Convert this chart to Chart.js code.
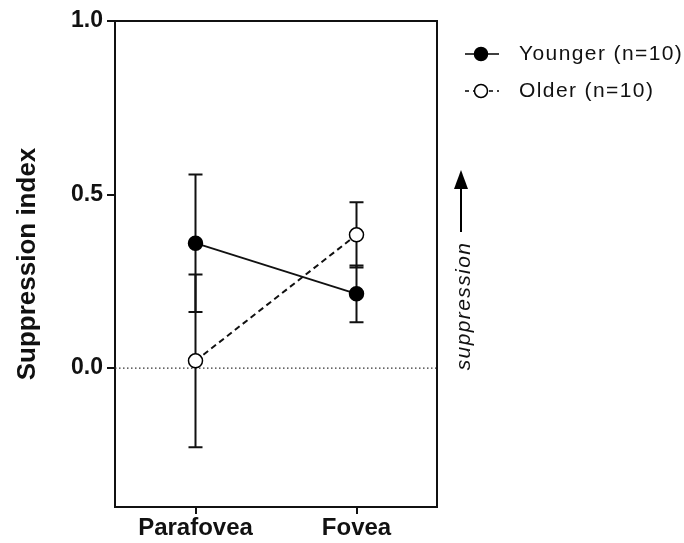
<!DOCTYPE html>
<html>
<head>
<meta charset="utf-8">
<script src="https://cdn.jsdelivr.net/npm/chart.js@4/dist/chart.umd.min.js"></script>
<style>
  html, body { margin: 0; padding: 0; background: #fff; }
  #wrap { width: 684px; height: 543px; }
</style>
</head>
<body>
<div id="wrap"><canvas id="myChart" width="684" height="543"></canvas></div>
<script>
// ---------------- data ----------------
var categories = ['Parafovea', 'Fovea'];
var youngerMean = [0.36, 0.214];
var youngerErr = [0.198, 0.082];
var olderMean = [0.021, 0.384];
var olderErr = [0.249, 0.094];
var yTicks = [0, 0.5, 1.0];
var seriesNames = ['Younger (n=10)', 'Older (n=10)'];

var FONT = '"Liberation Sans", Arial, sans-serif';

// error bars, frame, zero line, legend and the suppression arrow
var extras = {
  id: 'extras',
  beforeDatasetsDraw: function(chart) {
    var ctx = chart.ctx;
    var area = chart.chartArea;
    var x = chart.scales.x;
    var y = chart.scales.y;
    ctx.save();
    // dotted zero line
    ctx.strokeStyle = '#333';
    ctx.lineWidth = 1.2;
    ctx.setLineDash([1.5, 2.5]);
    ctx.beginPath();
    ctx.moveTo(area.left, y.getPixelForValue(0));
    ctx.lineTo(area.right, y.getPixelForValue(0));
    ctx.stroke();
    ctx.setLineDash([]);
    // error bars
    ctx.strokeStyle = '#111';
    ctx.lineWidth = 2;
    [[youngerMean, youngerErr], [olderMean, olderErr]].forEach(function(s) {
      s[0].forEach(function(m, i) {
        var px = x.getPixelForValue(i);
        var top = y.getPixelForValue(m + s[1][i]);
        var bot = y.getPixelForValue(m - s[1][i]);
        ctx.beginPath();
        ctx.moveTo(px, top); ctx.lineTo(px, bot);
        ctx.moveTo(px - 7, top); ctx.lineTo(px + 7, top);
        ctx.moveTo(px - 7, bot); ctx.lineTo(px + 7, bot);
        ctx.stroke();
      });
    });
    // top and right frame
    ctx.lineWidth = 2;
    ctx.beginPath();
    ctx.moveTo(area.left, area.top);
    ctx.lineTo(area.right, area.top);
    ctx.lineTo(area.right, area.bottom);
    ctx.stroke();
    ctx.restore();
  },
  afterDraw: function(chart) {
    var ctx = chart.ctx;
    ctx.save();
    // legend
    var rows = [
      { y: 54, dash: [], fill: '#000', text: seriesNames[0] },
      { y: 91, dash: [4, 4], fill: '#fff', text: seriesNames[1] }
    ];
    rows.forEach(function(r) {
      ctx.strokeStyle = '#000';
      ctx.lineWidth = 1.6;
      ctx.setLineDash(r.dash);
      ctx.beginPath();
      ctx.moveTo(465, r.y); ctx.lineTo(499, r.y);
      ctx.stroke();
      ctx.setLineDash([]);
      ctx.beginPath();
      ctx.arc(481, r.y, 6.5, 0, Math.PI * 2);
      ctx.fillStyle = r.fill;
      ctx.fill();
      ctx.lineWidth = 1.5;
      ctx.stroke();
      ctx.fillStyle = '#111';
      ctx.font = '21px ' + FONT;
      ctx.letterSpacing = '1.4px';
      ctx.textAlign = 'left';
      ctx.textBaseline = 'middle';
      ctx.fillText(r.text, 519, r.y);
      ctx.letterSpacing = '0px';
    });
    // suppression arrow
    ctx.strokeStyle = '#000';
    ctx.fillStyle = '#000';
    ctx.lineWidth = 2;
    ctx.beginPath();
    ctx.moveTo(461, 232); ctx.lineTo(461, 186);
    ctx.stroke();
    ctx.beginPath();
    ctx.moveTo(461, 170); ctx.lineTo(454, 189); ctx.lineTo(468, 189);
    ctx.closePath();
    ctx.fill();
    ctx.translate(464, 306);
    ctx.rotate(-Math.PI / 2);
    ctx.font = 'italic 21px ' + FONT;
    ctx.letterSpacing = '1.4px';
    ctx.textAlign = 'center';
    ctx.textBaseline = 'middle';
    ctx.fillStyle = '#111';
    ctx.fillText('suppression', 0, 0);
    ctx.restore();
  }
};

var ctx = document.getElementById('myChart').getContext('2d');
var myChart = new Chart(ctx, {
  type: 'line',
  data: {
    labels: categories,
    datasets: [{
      label: seriesNames[0],
      data: youngerMean,
      borderColor: '#111',
      borderWidth: 1.8,
      pointRadius: 7,
      pointBackgroundColor: '#000',
      pointBorderColor: '#000',
      pointBorderWidth: 1.5
    }, {
      label: seriesNames[1],
      data: olderMean,
      borderColor: '#111',
      borderWidth: 2,
      borderDash: [6, 4],
      pointRadius: 7,
      pointBackgroundColor: '#fff',
      pointBorderColor: '#000',
      pointBorderWidth: 1.5
    }]
  },
  options: {
    responsive: false,
    animation: false,
    layout: { padding: { top: 21, right: 247, left: 0, bottom: 0 } },
    plugins: { legend: { display: false }, tooltip: { enabled: false } },
    scales: {
      x: {
        type: 'category',
        offset: true,
        afterFit: function(s) { s.height = 36; },
        grid: { display: true, drawOnChartArea: false, drawTicks: true, tickLength: 7, color: '#111', lineWidth: 2, offset: false },
        border: { display: true, color: '#111', width: 2 },
        ticks: { color: '#111', padding: 0, font: { family: FONT, size: 24, weight: 'bold' } }
      },
      y: {
        min: -0.4,
        max: 1.0,
        afterFit: function(s) { s.width = 115; },
        afterBuildTicks: function(s) { s.ticks = yTicks.map(function(v) { return { value: v }; }); },
        grid: { display: true, drawOnChartArea: false, drawTicks: true, tickLength: 8, color: '#111', lineWidth: 2 },
        border: { display: true, color: '#111', width: 2 },
        ticks: {
          color: '#111', padding: 4,
          font: { family: FONT, size: 23, weight: 'bold' },
          callback: function(v) { return v.toFixed(1); }
        },
        title: {
          display: true, text: 'Suppression index', color: '#111',
          padding: { top: 12, bottom: 0 },
          font: { family: FONT, size: 26, weight: 'bold' }
        }
      }
    }
  },
  plugins: [extras]
});
</script>
</body>
</html>
